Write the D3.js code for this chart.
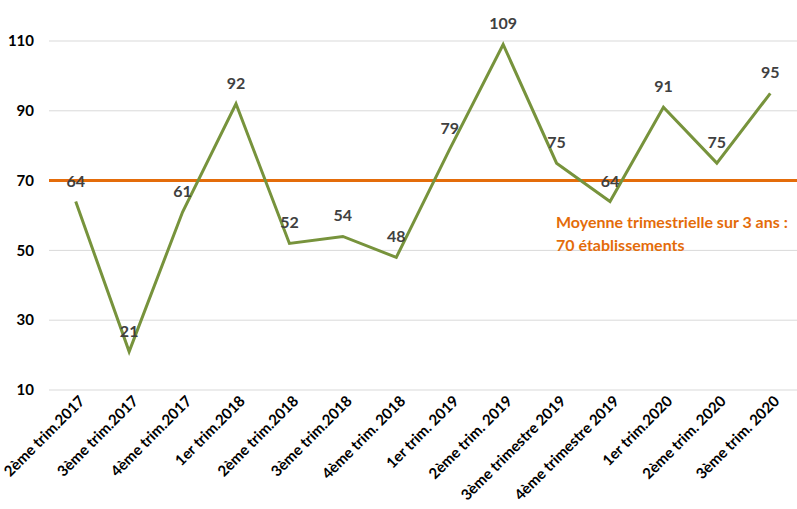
<!DOCTYPE html>
<html lang="fr">
<head>
<meta charset="utf-8">
<title>Etablissements par trimestre</title>
<script src="https://cdnjs.cloudflare.com/ajax/libs/d3/7.8.5/d3.min.js"></script>
<style>
  body { margin: 0; background: #fff; }
  text { font-family: Lato, "Open Sans", sans-serif; font-weight: bold; }
</style>
</head>
<body>
<svg id="chart" width="797" height="509"></svg>
<script>
// data
const trimestres = ["2ème trim.2017", "3ème trim.2017", "4ème trim.2017", "1er trim.2018",
  "2ème trim.2018", "3ème trim.2018", "4ème trim. 2018", "1er trim. 2019", "2ème trim. 2019",
  "3ème trimestre 2019", "4ème trimestre 2019", "1er trim.2020", "2ème trim. 2020", "3ème trim. 2020"];
const valeurs = [64, 21, 61, 92, 52, 54, 48, 79, 109, 75, 64, 91, 75, 95];
const moyenne = 70;
const yTicks = [10, 30, 50, 70, 90, 110];
const noteLines = ["Moyenne trimestrielle sur 3 ans :", "70 établissements"];

const svg = d3.select("#chart");
const plotLeft = 49, plotRight = 797, plotTop = 41, plotBottom = 390;

const x = d3.scalePoint().domain(trimestres).range([plotLeft, plotRight]).padding(0.5);
const y = d3.scaleLinear().domain([10, 110]).range([plotBottom, plotTop]);

// grid lines
svg.append("g").selectAll("line").data(yTicks).join("line")
  .attr("x1", plotLeft).attr("x2", plotRight)
  .attr("y1", d => y(d)).attr("y2", d => y(d))
  .attr("stroke", "#d9d9d9").attr("stroke-width", 1);

// y axis labels
svg.append("g").selectAll("text").data(yTicks).join("text")
  .attr("x", 34).attr("y", d => y(d)).attr("dy", "0.35em")
  .attr("text-anchor", "end").attr("font-size", 15).attr("fill", "#000")
  .text(d => d);

// x axis labels
svg.append("g").selectAll("text").data(trimestres).join("text")
  .attr("text-anchor", "end").attr("font-size", 15).attr("fill", "#000")
  .attr("transform", d => `translate(${x(d) + 10},${plotBottom + 12}) rotate(-45)`)
  .text(d => d);

// average line
svg.append("line")
  .attr("x1", plotLeft).attr("x2", plotRight)
  .attr("y1", y(moyenne)).attr("y2", y(moyenne))
  .attr("stroke", "#e46c0a").attr("stroke-width", 3);

// series line
const line = d3.line().x((d, i) => x(trimestres[i])).y(d => y(d));
svg.append("path").datum(valeurs)
  .attr("d", line).attr("fill", "none")
  .attr("stroke", "#77933c").attr("stroke-width", 3).attr("stroke-linejoin", "miter");

// data labels
svg.append("g").selectAll("text").data(valeurs).join("text")
  .attr("x", (d, i) => x(trimestres[i])).attr("y", d => y(d) - 15)
  .attr("text-anchor", "middle").attr("font-size", 16).attr("fill", "#404040")
  .text(d => d);

// annotation
svg.append("g").selectAll("text").data(noteLines).join("text")
  .attr("x", 556).attr("y", (d, i) => 228 + i * 23)
  .attr("font-size", 16).attr("fill", "#e46c0a")
  .text(d => d);
</script>
</body>
</html>
